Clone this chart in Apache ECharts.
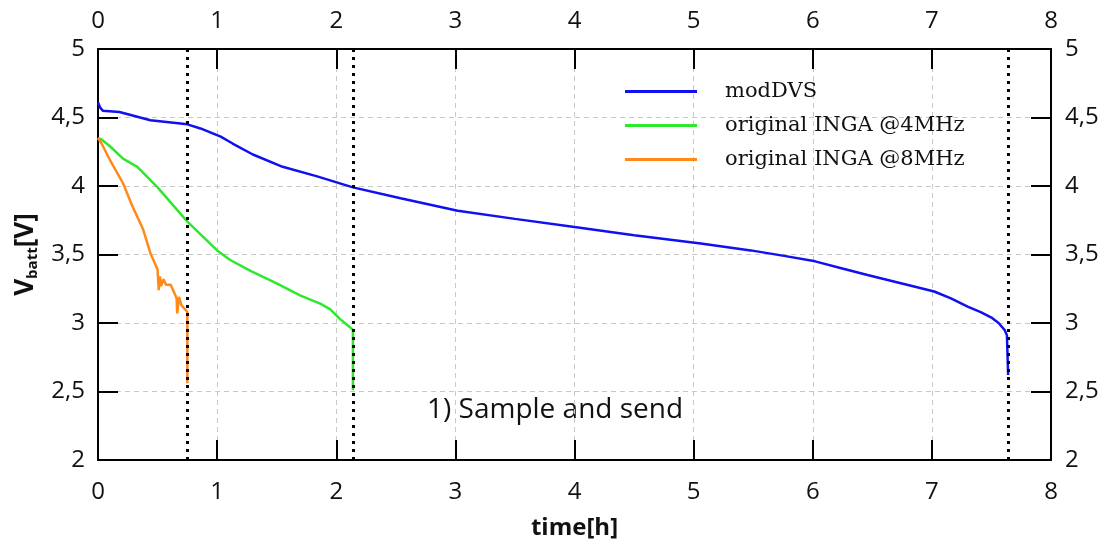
<!DOCTYPE html>
<html>
<head>
<meta charset="utf-8">
<script src="https://cdn.jsdelivr.net/npm/echarts@6/dist/echarts.min.js"></script>
<style>
  html, body { margin: 0; padding: 0; background: #fff; }
  #chart { width: 1106px; height: 545px; }
</style>
</head>
<body>
<div id="chart"></div>
<script>
// 数据: 时间 [h] 与电池电压 [V]
var modDvsTime = [0, 0.02, 0.04, 0.18, 0.44, 0.75, 0.86, 1.03, 1.13, 1.3, 1.55, 1.84, 2.14, 2.54, 3.02, 3.5, 4.0, 4.5, 5.06, 5.48, 5.76, 6.02, 6.24, 6.46, 6.74, 7.02, 7.16, 7.3, 7.41, 7.5, 7.56, 7.61, 7.63, 7.64];
var modDvsVolt = [4.61, 4.57, 4.55, 4.54, 4.48, 4.45, 4.42, 4.36, 4.31, 4.23, 4.14, 4.07, 3.99, 3.91, 3.82, 3.76, 3.70, 3.64, 3.58, 3.53, 3.49, 3.45, 3.40, 3.35, 3.29, 3.23, 3.18, 3.12, 3.08, 3.04, 3.00, 2.95, 2.91, 2.62];

var inga4Time = [0, 0.03, 0.1, 0.21, 0.33, 0.5, 0.75, 1.0, 1.11, 1.28, 1.5, 1.7, 1.87, 1.95, 2.03, 2.1, 2.14, 2.14];
var inga4Volt = [4.35, 4.34, 4.29, 4.20, 4.14, 3.99, 3.74, 3.53, 3.46, 3.38, 3.29, 3.20, 3.14, 3.10, 3.03, 2.98, 2.95, 2.51];

var inga8Time = [0, 0.03, 0.1, 0.21, 0.29, 0.38, 0.44, 0.5, 0.51, 0.52, 0.53, 0.55, 0.57, 0.61, 0.64, 0.66, 0.665, 0.68, 0.7, 0.73, 0.75, 0.75];
var inga8Volt = [4.35, 4.31, 4.19, 4.02, 3.85, 3.68, 3.51, 3.39, 3.24, 3.34, 3.27, 3.32, 3.28, 3.28, 3.22, 3.18, 3.07, 3.19, 3.13, 3.10, 3.08, 2.56];

// 截止时间 (虚线)
var cutoffTimes = [0.75, 2.14, 7.64];

var seriesNames = ['modDVS', 'original INGA @4MHz', 'original INGA @8MHz'];
var seriesColors = ['#1010f0', '#2ee82e', '#ff8a1a'];

function pairs(t, v) {
  var out = [];
  for (var i = 0; i < t.length; i++) out.push([t[i], v[i]]);
  return out;
}

var chart = echarts.init(document.getElementById('chart'));

var tickFont = { fontFamily: 'Open Sans', fontSize: 24, color: '#111' };
var commaFmt = function (v) { return String(v).replace('.', ','); };

// 刻度朝内
function tickStyle() {
  return { show: true, inside: true, length: 20, lineStyle: { color: '#000', width: 2 } };
}

var option = {
  animation: false,
  backgroundColor: '#fff',
  grid: { left: 98, right: 55, top: 49, bottom: 85, outerBoundsMode: 'none' },
  legend: {
    data: seriesNames.map(function (n) { return { name: n, icon: 'rect' }; }),
    orient: 'vertical',
    left: 625, top: 81, padding: 0,
    itemWidth: 72, itemHeight: 3, itemGap: 13,
    textStyle: { fontFamily: 'DejaVu Serif', fontSize: 21, color: '#111', padding: [0, 0, 0, 23] }
  },
  xAxis: [
    {
      type: 'value', min: 0, max: 8, interval: 1, position: 'bottom',
      axisLine: { show: true, onZero: false, lineStyle: { color: '#000', width: 2 } },
      axisTick: tickStyle(),
      axisLabel: Object.assign({ margin: 20 }, tickFont),
      name: 'time[h]', nameLocation: 'middle', nameGap: 56,
      nameTextStyle: { fontFamily: 'Open Sans', fontSize: 24, fontWeight: 'bold', color: '#111' },
      splitLine: { show: true, lineStyle: { color: '#c8c8c8', type: [5, 4], width: 1 } }
    },
    {
      type: 'value', min: 0, max: 8, interval: 1, position: 'top',
      axisLine: { show: true, onZero: false, lineStyle: { color: '#000', width: 2 } },
      axisTick: tickStyle(),
      axisLabel: Object.assign({ margin: 16 }, tickFont),
      splitLine: { show: false }
    }
  ],
  yAxis: [
    {
      type: 'value', min: 2, max: 5, interval: 0.5, position: 'left',
      axisLine: { show: true, onZero: false, lineStyle: { color: '#000', width: 2 } },
      axisTick: tickStyle(),
      axisLabel: Object.assign({ margin: 13, formatter: commaFmt }, tickFont),
      name: '{v|V}{s|batt}{v|[V]}', nameLocation: 'middle', nameGap: 57,
      nameTextStyle: {
        rich: {
          v: { fontFamily: 'Open Sans', fontSize: 26, fontWeight: 'bold', color: '#111', lineHeight: 30 },
          s: { fontFamily: 'Open Sans', fontSize: 15, fontWeight: 'bold', color: '#111', lineHeight: 16, verticalAlign: 'bottom' }
        }
      },
      splitLine: { show: true, lineStyle: { color: '#c8c8c8', type: [5, 4], width: 1 } }
    },
    {
      type: 'value', min: 2, max: 5, interval: 0.5, position: 'right',
      axisLine: { show: true, onZero: false, lineStyle: { color: '#000', width: 2 } },
      axisTick: tickStyle(),
      axisLabel: Object.assign({ margin: 14, formatter: commaFmt }, tickFont),
      splitLine: { show: false }
    }
  ],
  series: [
    {
      name: seriesNames[0], type: 'line', data: pairs(modDvsTime, modDvsVolt),
      showSymbol: false, symbol: 'none', color: seriesColors[0],
      lineStyle: { width: 2.5 }, z: 4,
      markLine: {
        silent: true, symbol: 'none', label: { show: false },
        lineStyle: { color: '#000', type: [3, 5], width: 3 },
        data: cutoffTimes.map(function (t) { return { xAxis: t }; })
      }
    },
    {
      name: seriesNames[1], type: 'line', data: pairs(inga4Time, inga4Volt),
      showSymbol: false, symbol: 'none', color: seriesColors[1],
      lineStyle: { width: 2.5 }, z: 3
    },
    {
      name: seriesNames[2], type: 'line', data: pairs(inga8Time, inga8Volt),
      showSymbol: false, symbol: 'none', color: seriesColors[2],
      lineStyle: { width: 2.5 }, z: 3
    }
  ],
  graphic: [{
    type: 'text', left: 427, top: 396,
    style: { text: '1) Sample and send', fontFamily: 'Open Sans', fontSize: 28, fill: '#111' }
  }]
};

chart.setOption(option);
</script>
</body>
</html>
